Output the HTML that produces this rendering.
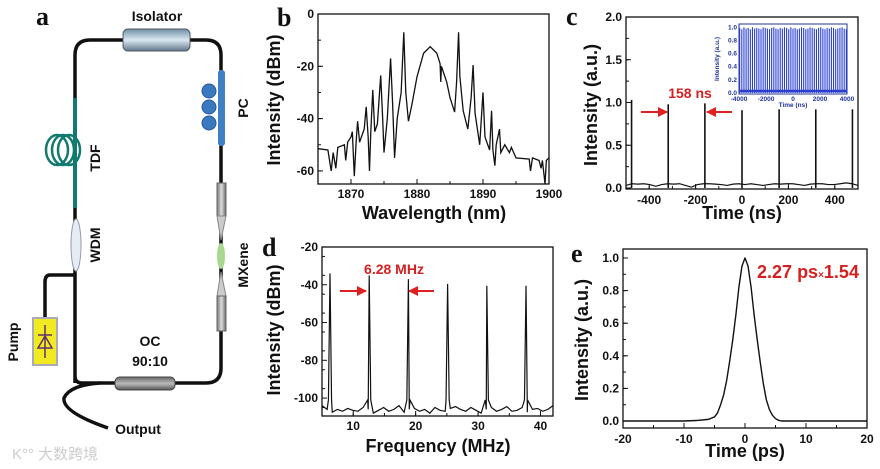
<!DOCTYPE html>
<html><head><meta charset="utf-8"><style>
body{margin:0;background:#fff}
svg{display:block;font-family:"Liberation Sans",Arial,sans-serif}
.t{font-weight:bold;font-size:12px;fill:#111}
.ti{font-weight:bold;font-size:18px;fill:#111}
.lt{font-family:"Liberation Serif",serif;font-weight:bold;font-size:26px;fill:#111}
.lab{font-weight:bold;font-size:14px;fill:#111}
.red{font-weight:bold;fill:#d42020}
</style></head><body>
<svg id="fig" width="880" height="469" viewBox="0 0 880 469" xmlns="http://www.w3.org/2000/svg">
<defs>
<linearGradient id="gIso" x1="0" y1="0" x2="0" y2="1"><stop offset="0" stop-color="#6f8fa6"/><stop offset="0.5" stop-color="#dbe8f2"/><stop offset="1" stop-color="#5d7789"/></linearGradient>
<linearGradient id="gGray" x1="0" y1="0" x2="0" y2="1"><stop offset="0" stop-color="#666"/><stop offset="0.5" stop-color="#bbb"/><stop offset="1" stop-color="#555"/></linearGradient>
<linearGradient id="gGrayV" x1="0" y1="0" x2="1" y2="0"><stop offset="0" stop-color="#777"/><stop offset="0.5" stop-color="#ddd"/><stop offset="1" stop-color="#666"/></linearGradient>
<marker id="arr" viewBox="0 0 10 10" refX="9" refY="5" markerWidth="5" markerHeight="5" orient="auto"><path d="M0,0L10,5L0,10z" fill="#e02020"/></marker>
</defs>
<g>
<text x="36" y="25" class="lt">a</text>
<path d="M75,383 L75,55 Q75,40 90,40 L206,40 Q221,40 221,55 L221,368 Q221,383 206,383 L82,383 Q75,383 75,376" fill="none" stroke="#111" stroke-width="3.5"/>
<path d="M100,383 Q70,385 64,398 Q62,412 108,428" fill="none" stroke="#111" stroke-width="3.5"/>
<path d="M76,275 L50,275 Q45,275 45,282 L45,320" fill="none" stroke="#111" stroke-width="3.5"/>
<rect x="123" y="29" width="67" height="22" rx="5" fill="url(#gIso)" stroke="#556"/>
<line x1="75" y1="98" x2="75" y2="208" stroke="#127a6e" stroke-width="4"/>
<g fill="none" stroke="#127a6e" stroke-width="2.5">
<ellipse cx="57" cy="150" rx="11" ry="15"/><ellipse cx="63" cy="150" rx="11" ry="15"/><ellipse cx="69" cy="150" rx="11" ry="15"/></g>
<ellipse cx="76" cy="245" rx="5" ry="26" fill="#e4ecf6" stroke="#99a"/>
<rect x="218" y="70" width="7" height="76" rx="3" fill="#3f7fc4"/>
<g fill="#3a78c0" stroke="#2a5c99"><circle cx="209" cy="91" r="7"/><circle cx="209" cy="107" r="7"/><circle cx="209" cy="123" r="7"/></g>
<rect x="217" y="183" width="9" height="33" fill="url(#gGrayV)" stroke="#666"/>
<path d="M217,216 L221,240 L226,216z M217,296 L221,272 L226,296z" fill="#ccc" stroke="#888"/>
<ellipse cx="221" cy="256" rx="4" ry="13" fill="#a8d890"/>
<rect x="217" y="296" width="9" height="35" fill="url(#gGrayV)" stroke="#666"/>
<rect x="33" y="318" width="24" height="47" fill="#f2ea20" stroke="#aab" stroke-width="2"/>
<path d="M45,325 L45,358 M38,335 L52,335 M38,348 L52,348 L45,336z" fill="none" stroke="#603070" stroke-width="1.5"/>
<rect x="115" y="377" width="60" height="13" rx="5" fill="url(#gGray)" stroke="#444"/>
<text x="157" y="21" class="lab" text-anchor="middle">Isolator</text>
<text transform="translate(248,108) rotate(-90)" class="lab" text-anchor="middle">PC</text>
<text transform="translate(100,158) rotate(-90)" class="lab" text-anchor="middle">TDF</text>
<text transform="translate(100,245) rotate(-90)" class="lab" text-anchor="middle">WDM</text>
<text transform="translate(248,265) rotate(-90)" class="lab" text-anchor="middle">MXene</text>
<text transform="translate(18,342) rotate(-90)" class="lab" text-anchor="middle">Pump</text>
<text x="150" y="346" class="lab" text-anchor="middle">OC</text>
<text x="150" y="366" class="lab" text-anchor="middle">90:10</text>
<text x="138" y="434" class="lab" text-anchor="middle">Output</text>
<text x="12" y="459" font-size="15" fill="#ccc" font-family="'Liberation Sans','Noto Sans CJK SC',sans-serif">K°° 大数跨境</text>
</g>
<g id="charts"></g>
</svg>
<script>
// Panel b data
const bWl=[1865,1866.5,1867,1867.3,1867.7,1868,1869,1869.2,1869.5,1870,1870.2,1870.5,1870.8,1871,1871.3,1872,1872.3,1872.6,1872.8,1873,1873.3,1873.6,1874,1874.5,1874.8,1875,1875.5,1876,1876.3,1876.6,1877,1877.6,1878,1878.3,1878.7,1879.2,1880,1881,1882,1883,1883.5,1883.6,1883.7,1884.5,1885,1885.7,1886,1886.3,1886.5,1887,1887.7,1888.2,1888.5,1888.8,1889.5,1890,1890.3,1891,1891.3,1891.5,1891.8,1892,1892.5,1892.7,1893.3,1894,1894.3,1895,1897,1897.2,1897.5,1898.5,1898.8,1899,1899.4,1899.6,1900];
const bDbm=[-51.5,-52,-60,-53,-59,-51,-50,-56,-49,-47,-45,-62,-48,-41,-49,-44,-35.5,-47,-60,-45,-29,-45,-42,-23.5,-40,-53,-40,-17,-34,-55,-40,-30,-7,-30,-41,-35,-24,-15,-12.5,-15,-19,-26,-20,-26,-32,-37.5,-26,-7,-24,-37,-44,-32,-19.5,-38,-50,-30,-47,-52,-37,-52,-58,-50,-44,-53,-50,-53,-51,-55,-55.5,-60,-55,-56,-59,-56,-65,-56,-55];
const bXTicks=[1870,1880,1890,1900];
const bYTicks=[0,-20,-40,-60];
// Panel c data
const cPulseT=[-476,-318,-160,0,160,318,476];
const cPulseH=[1.03,0.98,0.99,0.91,0.92,0.92,0.92];
const cBase=[0.03,0.05,0.045,0.05,0.04,0.02,0.04,0.05,0.045,0.05,0.03,0.01,0.04,0.05,0.05,0.045,0.04,0.03,0.045,0.05,0.04,0.05,0.04,0.03,0.04,0.05,0.045,0.05,0.05,0.04,0.03,0.045,0.05,0.05,0.04,0.04,0.05,0.06,0.05,0.03];
const cXTicks=[-400,-200,0,200,400];
const cYTicks=[0.0,0.5,1.0,1.5,2.0];
const insetPeriod=158;
const insetH=[0.99,0.97,1.0,0.98,0.99,0.97,1.0,0.98,0.99,0.98,0.97,1.0,0.99,0.98,0.97,0.99,1.0,0.98,0.97,0.99,0.98,1.0,0.99,0.97,1.0,0.98,0.99,0.97,0.98,1.0,0.99,0.97,0.98,1.0,0.99,0.98,0.97,0.99,1.0,0.98,0.97,0.99,0.98,1.0,0.99,0.97,0.98,0.99,1.0,0.98,0.97];
const insetXTicks=[-4000,-2000,0,2000,4000];
const insetYTicks=[0.0,0.2,0.4,0.6,0.8,1.0];
// Panel d data
const dPeakF=[6.28,12.56,18.84,25.12,31.4,37.68];
const dPeakP=[-34,-35,-37,-39.5,-40.5,-40.5];
const dNoise=[-104,-106,-107.5,-106,-107,-105.5,-106.5,-107,-105,-106,-108,-106.5,-105,-107,-106,-104,-107.5,-106,-105.5,-107,-106,-108,-105,-106.5,-107,-105.5,-104.5,-106,-107,-105,-106.5,-108,-106,-105,-107,-106,-104.5,-107,-106.5,-105,-107.5,-106,-105.5,-107,-106,-104];
const dXTicks=[10,20,30,40];
const dYTicks=[-20,-40,-60,-80,-100];
// Panel e data
const eT=[-20,-10,-8,-6,-5,-4.5,-4,-3.5,-3,-2.5,-2,-1.5,-1,-0.5,0,0.5,1,1.5,2,2.5,3,3.5,4,4.5,5,5.5,6,10,20];
const eI=[0,0,0.003,0.01,0.025,0.05,0.1,0.16,0.25,0.37,0.5,0.65,0.82,0.95,1,0.95,0.82,0.65,0.5,0.36,0.23,0.13,0.07,0.035,0.015,0.004,0,0,0];
const eXTicks=[-20,-10,0,10,20];
const eYTicks=[0.0,0.2,0.4,0.6,0.8,1.0];

const NS='http://www.w3.org/2000/svg';
const root=document.getElementById('charts');
function mk(tag,attrs,parent,txt){const e=document.createElementNS(NS,tag);for(const k in attrs)e.setAttribute(k,attrs[k]);if(txt!==undefined)e.textContent=txt;(parent||root).appendChild(e);return e;}
function scale(d0,d1,p0,p1){return v=>p0+(v-d0)*(p1-p0)/(d1-d0);}
function axes(g,box,sx,sy,xt,yt,fmtY,fmtX,tsize,minorX,minorY,xr,yr){
  const r=mk('rect',{x:box[0],y:box[1],width:box[2]-box[0],height:box[3]-box[1],fill:'none',stroke:'#111','stroke-width':1.3},g);
  
  
  xt.forEach(v=>{const x=sx(v);
    const l=mk('line',{x1:x,x2:x,y1:box[3],y2:box[3]-5,stroke:'#111'},g);
    
    
    const t=mk('text',{x:x,y:box[3]+14+(tsize-12),'text-anchor':'middle',class:'t','font-size':tsize},g,fmtX(v));
    
    });
  yt.forEach(v=>{const y=sy(v);
    const l=mk('line',{x1:box[0],x2:box[0]+5,y1:y,y2:y,stroke:'#111'},g);
    
    
    const t=mk('text',{x:box[0]-4,y:y+4,'text-anchor':'end',class:'t','font-size':tsize},g,fmtY(v));
    
    });
  if(minorX)for(let v=xr[0];v<=xr[1]+1e-9;v+=minorX){const x=sx(v);const l=mk('line',{x1:x,x2:x,y1:box[3],y2:box[3]-3,stroke:'#111'},g);}
  if(minorY)for(let v=yr[0];v<=yr[1]+1e-9;v+=minorY){const y=sy(v);const l=mk('line',{x1:box[0],x2:box[0]+3,y1:y,y2:y,stroke:'#111'},g);}
}
function titles(g,xt,xx,xy,yt,yx,yy,letter,lx,ly){
  const a=mk('text',{x:xx,y:xy,'text-anchor':'middle',class:'ti'},g,xt);
  
  
  const b=mk('text',{transform:`translate(${yx},${yy}) rotate(-90)`,'text-anchor':'middle',class:'ti'},g,yt);
  
  
  const c=mk('text',{x:lx,y:ly,class:'lt'},g,letter);
  
  
}
function arrow(g,x1,x2,y,name){const l=mk('line',{x1:x1,x2:x2,y1:y,y2:y,stroke:'#e02020','stroke-width':2,'marker-end':'url(#arr)'},g);
  
  }

{const g=mk('g',{});
const box=[318,14,549,184];const sx=scale(1865,1900,318,549),sy=scale(0,-65,14,184);
axes(g,box,sx,sy,bXTicks,bYTicks,v=>v,v=>v,12,5,10,[1865,1900],[-60,0]);
const p=mk('polyline',{points:bWl.map((w,i)=>sx(w)+','+sy(bDbm[i])).join(' '),fill:'none',stroke:'#111','stroke-width':1.3},g);

titles(g,'Wavelength (nm)',434,219,'Intensity (dBm)',280,100,'b',277,26);}

{const g=mk('g',{});
const box=[626,17,858,189];const sx=scale(-500,500,626,858),sy=scale(0,2,188,17);
axes(g,box,sx,sy,cXTicks,cYTicks,v=>v.toFixed(1),v=>v,13,100,0.25,[-500,500],[0,2]);
const pts=cBase.map((v,i)=>sx(-500+i*1000/(cBase.length-1))+','+sy(v)).join(' ');
const bl=mk('polyline',{points:pts,fill:'none',stroke:'#111','stroke-width':1.2},g);

cPulseT.forEach((t,i)=>{const l=mk('line',{x1:sx(t),x2:sx(t),y1:sy(0),y2:sy(cPulseH[i]),stroke:'#111','stroke-width':1.6},g);
 });
const lbl=mk('text',{x:690,y:98,'text-anchor':'middle',class:'red','font-size':14},g,'158 ns');

arrow(g,641,667,112,'arrow-left');arrow(g,732,707,112,'arrow-right');
titles(g,'Time (ns)',742,219,'Intensity (a.u.)',597,105,'c',566,25);
const ig=mk('g',{},g);
const ix=scale(-4000,4000,739,847),iy=scale(0,1.05,93,24);
const fr=mk('rect',{x:739,y:24,width:108,height:70,fill:'#fff',stroke:'#223399','stroke-width':1},ig);

insetH.forEach((h,k)=>{const t=-3950+k*insetPeriod;if(t>4000)return;const l=mk('line',{x1:ix(t),x2:ix(t),y1:iy(0),y2:iy(h),stroke:'#2a3fd0','stroke-width':1.1},ig);
 });
const ibl=mk('line',{x1:739,x2:847,y1:iy(0.03),y2:iy(0.03),stroke:'#2a3fd0','stroke-width':2.5},ig);

insetXTicks.forEach(v=>{const t=mk('text',{x:ix(v),y:101,'text-anchor':'middle','font-size':6.5,'font-weight':'bold',fill:'#223399'},ig,v);});
insetYTicks.forEach(v=>{const t=mk('text',{x:737,y:iy(v)+2,'text-anchor':'end','font-size':6.5,'font-weight':'bold',fill:'#223399'},ig,v.toFixed(1));});
const ixt=mk('text',{x:793,y:107,'text-anchor':'middle','font-size':6.5,'font-weight':'bold',fill:'#223399'},ig,'Time (ns)');
const iyt=mk('text',{transform:'translate(719,59) rotate(-90)','text-anchor':'middle','font-size':6.5,'font-weight':'bold',fill:'#223399'},ig,'Intensity (a.u.)');}

{const g=mk('g',{});
const box=[322,247,553,416];const sx=scale(5,42,322,553),sy=scale(-20,-109.5,247,416);
axes(g,box,sx,sy,dXTicks,dYTicks,v=>v,v=>v,12,5,10,[5,42],[-105,-20]);
const pts=[];dNoise.forEach((v,i)=>{const f=5+i*37/(dNoise.length-1);pts.push([f,v]);});
dPeakF.forEach((f,i)=>{pts.push([f-0.25,-101]);pts.push([f,dPeakP[i]]);pts.push([f+0.25,-101]);});
pts.sort((a,b)=>a[0]-b[0]);
const pl=mk('polyline',{points:pts.map(p=>sx(p[0])+','+sy(p[1])).join(' '),fill:'none',stroke:'#111','stroke-width':1.2},g);

const lbl=mk('text',{x:394,y:274,'text-anchor':'middle',class:'red','font-size':14},g,'6.28 MHz');

arrow(g,340,366,291,'arrow-left');arrow(g,434,409,291,'arrow-right');
titles(g,'Frequency (MHz)',438,452,'Intensity (dBm)',280,330,'d',262,256);}

{const g=mk('g',{});
const box=[623,249,867,428];const sx=scale(-20,20,623,867),sy=scale(0,1,421,258);
axes(g,box,sx,sy,eXTicks,eYTicks,v=>v.toFixed(1),v=>v,13,5,0.1,[-20,20],[0,1]);
let d='';eT.forEach((t,i)=>{d+=(i?'L':'M')+sx(t)+','+sy(eI[i]);});
const pl=mk('path',{d:d,fill:'none',stroke:'#111','stroke-width':1.4,'stroke-linejoin':'round'},g);

const lbl=mk('text',{x:808,y:278,'text-anchor':'middle',class:'red','font-size':18},g);

lbl.innerHTML='2.27 ps<tspan font-size="10">×</tspan>1.54';
titles(g,'Time (ps)',745,457,'Intensity (a.u.)',588,340,'e',571,262);}
</script>
</body></html>
